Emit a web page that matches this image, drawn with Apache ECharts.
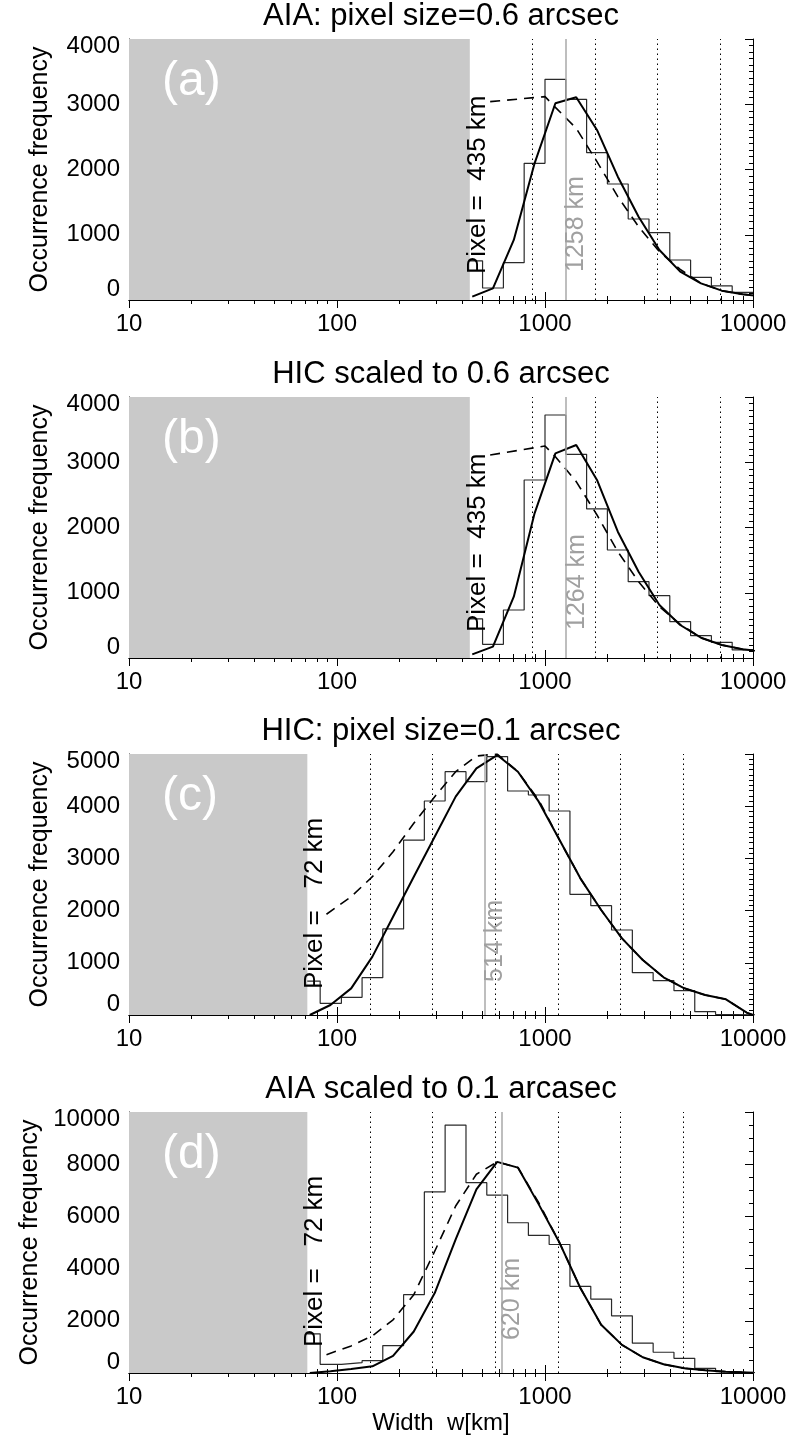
<!DOCTYPE html>
<html><head><meta charset="utf-8">
<script src="https://cdn.jsdelivr.net/npm/echarts/dist/echarts.min.js"></script>
<style>html,body{margin:0;padding:0;background:#fff}#c{width:791px;height:1443px}</style>
</head><body><div id="c"></div>
<script>
// ---------- data ----------
const titles = ['AIA: pixel size=0.6 arcsec', 'HIC scaled to 0.6 arcsec', 'HIC: pixel size=0.1 arcsec', 'AIA scaled to 0.1 arcasec'];
const panelTags = ['(a)', '(b)', '(c)', '(d)'];
const pixelSizes = [435, 435, 72, 72];
const pixelLabels = ['Pixel =  435 km', 'Pixel =  435 km', 'Pixel =   72 km', 'Pixel =   72 km'];
const peakWidths = [1258, 1264, 514, 620];
const peakLabels = ['1258 km', '1264 km', '514 km', '620 km'];
const yMaxes = [4000, 4000, 5000, 10000];
const yIntervals = [1000, 1000, 1000, 2000];
const yMinorSplits = [10, 10, 10, 4];
const xTickValues = [10, 100, 1000, 10000];
const yAxisTitle = 'Occurrence frequency';
const xAxisTitle = 'Width  w[km]';

// dotted reference lines (multiples of the pixel size)
const dottedAB = [870, 1740, 3480, 6960];
const dottedCD = [144, 288, 576, 1152, 2304, 4608];

// histogram bin edges (km)
const edgesAB = [398, 501, 631, 794, 1000, 1259, 1585, 1995, 2512, 3162, 3981, 5012, 6310, 7943, 10000];
const edgesCD = [66, 83, 105, 132, 166, 209, 263, 331, 417, 525, 661, 832, 1047, 1318, 1660, 2089, 2630, 3311, 4169, 5248, 6607, 8318, 10471];

// histogram counts
const histA = [600, 184, 572, 2095, 3382, 3075, 2258, 1778, 1241, 1032, 613, 348, 215, 118];
const histB = [600, 210, 736, 2728, 3724, 3122, 2284, 1655, 1170, 955, 557, 342, 240, 123];
const histC = [650, 224, 339, 715, 1648, 3352, 4100, 4661, 4470, 4950, 4291, 4215, 3908, 2312, 2094, 1628, 811, 658, 466, 64, 10, 0];
const histD = [1500, 333, 397, 474, 1051, 3000, 6936, 9500, 7292, 6817, 5757, 5270, 4924, 3321, 2834, 2192, 1141, 795, 564, 179, 51, 13];

// solid fit curves (x at bin centres)
const centersAB = [447, 562, 708, 891, 1122, 1413, 1778, 2239, 2818, 3548, 4467, 5623, 7079, 8913, 11220];
const solidA = [51, 179, 920, 2095, 3015, 3107, 2606, 1890, 1277, 766, 434, 255, 143, 87, 55];
const solidB = [56, 174, 940, 2217, 3137, 3264, 2728, 1936, 1323, 812, 506, 311, 199, 133, 98];
const centersCD = [74, 93, 117, 148, 186, 234, 295, 372, 468, 589, 741, 933, 1175, 1479, 1862, 2344, 2951, 3715, 4677, 5888, 7413, 9333, 10000];
const solidC = [0, 192, 510, 1118, 1883, 2650, 3416, 4183, 4725, 4980, 4661, 4087, 3352, 2618, 2011, 1469, 1054, 722, 511, 383, 300, 45, 0];
const solidD = [0, 64, 154, 256, 654, 1590, 3064, 5116, 7038, 8090, 7870, 6461, 4987, 3257, 1846, 1077, 603, 333, 179, 103, 51, 13, 10];

// dashed curves
const dashedXA = [545, 1000, 1122, 1413, 1778, 2239, 2818, 3548, 4467, 5623, 7079, 8913, 11220];
const dashedA = [3040, 3117, 2953, 2631, 2120, 1584, 1124, 741, 470, 255, 143, 87, 55];
const dashedB = [3111, 3249, 3085, 2703, 2192, 1630, 1170, 787, 516, 311, 199, 133, 98];
const dashedXCD = [89, 117, 148, 186, 234, 295, 372, 468, 589, 741, 933, 1175, 1479, 1862, 2344, 2951, 3715, 4677, 5888, 7413, 9333, 10000];
const dashedC = [1930, 2267, 2650, 3129, 3672, 4183, 4661, 4962, 5000, 4661, 4119, 3352, 2618, 2011, 1469, 1054, 722, 511, 383, 300, 45, 0];
const dashedD = [700, 1039, 1423, 2039, 3000, 4666, 6398, 7615, 8090, 7870, 6526, 4987, 3257, 1846, 1077, 603, 333, 179, 103, 51, 13, 10];

const panels = [
  {edges: edgesAB, hist: histA, cx: centersAB, solid: solidA, dx: dashedXA, dashed: dashedA, dotted: dottedAB},
  {edges: edgesAB, hist: histB, cx: centersAB, solid: solidB, dx: dashedXA, dashed: dashedB, dotted: dottedAB},
  {edges: edgesCD, hist: histC, cx: centersCD, solid: solidC, dx: dashedXCD, dashed: dashedC, dotted: dottedCD},
  {edges: edgesCD, hist: histD, cx: centersCD, solid: solidD, dx: dashedXCD, dashed: dashedD, dotted: dottedCD}
];

// ---------- layout ----------
const FONT = '"Liberation Sans", Arial, Helvetica, sans-serif';
const gridTops = [39, 397, 754, 1112];
const gridH = 261, gridL = 129, gridW = 624;
const peakTextOffset = [28, 28, 33, 33];

const zip = (xs, ys) => ys.map((y, i) => [xs[i], y]);
const stepData = (edges, counts) => {
  const d = counts.map((c, i) => [edges[i], c]);
  d.push([edges[counts.length], counts[counts.length - 1]]);
  return d;
};

const grids = [], xAxes = [], yAxes = [], series = [];
panels.forEach((p, i) => {
  grids.push({left: gridL, top: gridTops[i], width: gridW, height: gridH});
  const xBase = {
    type: 'log', logBase: 10, min: xTickValues[0], max: xTickValues[xTickValues.length - 1], gridIndex: i,
    axisLine: {show: true, lineStyle: {color: '#000', width: 1}},
    axisTick: {show: true, inside: true, length: 8, lineStyle: {color: '#000', width: 1}},
    minorTick: {show: true, splitNumber: 9, length: 4, lineStyle: {color: '#000', width: 1}},
    splitLine: {show: false}, minorSplitLine: {show: false}
  };
  xAxes.push(Object.assign({}, xBase, {
    position: 'bottom',
    axisLabel: {show: true, fontSize: 24, color: '#000', fontFamily: FONT, margin: 12, formatter: v => String(Math.round(v))},
    name: i === 3 ? xAxisTitle : '', nameLocation: 'middle', nameGap: 38,
    nameTextStyle: {fontSize: 24, color: '#000', fontFamily: FONT}
  }));
  xAxes.push(Object.assign({}, xBase, {position: 'top', axisLabel: {show: false}}));
  const ymax = yMaxes[i];
  const yBase = {
    type: 'value', min: 0, max: ymax, interval: yIntervals[i], gridIndex: i,
    axisLine: {show: true, lineStyle: {color: '#000', width: 1}},
    axisTick: {show: true, inside: true, length: 8, lineStyle: {color: '#000', width: 1}},
    minorTick: {show: true, splitNumber: yMinorSplits[i], length: 4, lineStyle: {color: '#000', width: 1}},
    splitLine: {show: false}, minorSplitLine: {show: false}
  };
  yAxes.push(Object.assign({}, yBase, {
    position: 'left',
    axisLabel: {
      show: true, fontSize: 24, color: '#000', fontFamily: FONT, margin: 9,
      formatter: v => v === 0 ? '{lo|0}' : (v === ymax ? '{hi|' + v + '}' : String(v)),
      rich: {
        lo: {fontSize: 24, fontFamily: FONT, color: '#000', lineHeight: 46, verticalAlign: 'top'},
        hi: {fontSize: 24, fontFamily: FONT, color: '#000', lineHeight: 38, verticalAlign: 'bottom'}
      }
    },
    name: yAxisTitle, nameLocation: 'middle', nameGap: 76,
    nameTextStyle: {fontSize: 25, color: '#000', fontFamily: FONT}
  }));
  yAxes.push(Object.assign({}, yBase, {position: 'right', axisLabel: {show: false}}));

  const xi = 2 * i, yi = 2 * i;
  // gray "below pixel size" region
  series.push({
    type: 'line', xAxisIndex: xi, yAxisIndex: yi, silent: true, z: 10,
    data: [[xTickValues[0], ymax], [pixelSizes[i], ymax]],
    symbol: 'none', lineStyle: {width: 0, color: '#c9c9c9'},
    areaStyle: {color: '#c9c9c9', opacity: 1, origin: 'start'}
  });
  // histogram
  series.push({
    type: 'line', xAxisIndex: xi, yAxisIndex: yi, step: 'end', z: 3,
    data: stepData(p.edges, p.hist), symbol: 'none',
    lineStyle: {color: '#2a2a2a', width: 1.2},
    markLine: {
      silent: true, symbol: 'none', label: {show: false},
      data: p.dotted.map(v => ({xAxis: v, lineStyle: {type: [1.5, 3.5], color: '#000', width: 1}}))
        .concat([{xAxis: peakWidths[i], lineStyle: {type: 'solid', color: '#a8a8a8', width: 1.5}}])
    }
  });
  // solid fit
  series.push({
    type: 'line', xAxisIndex: xi, yAxisIndex: yi, z: 4, data: zip(p.cx, p.solid), symbol: 'none',
    lineStyle: {color: '#000', width: 2}
  });
  // dashed
  series.push({
    type: 'line', xAxisIndex: xi, yAxisIndex: yi, z: 4, data: zip(p.dx, p.dashed), symbol: 'none',
    lineStyle: {color: '#000', width: 1.6, type: [10, 7]}
  });
});

const chart = echarts.init(document.getElementById('c'), null, {renderer: 'canvas'});
chart.setOption({
  animation: false, backgroundColor: '#fff',
  grid: grids, xAxis: xAxes, yAxis: yAxes, series: series
});

// texts anchored through the axes' own scales
const graphics = [];
panels.forEach((p, i) => {
  const bottom = gridTops[i] + gridH;
  graphics.push({type: 'text', x: gridL + gridW / 2, y: gridTops[i] - 38, z: 100,
    style: {text: titles[i], fontSize: 31, fontFamily: FONT, fill: '#000', align: 'center', verticalAlign: 'top'}});
  graphics.push({type: 'text', x: gridL + 33, y: gridTops[i] + 43, z: 100,
    style: {text: panelTags[i], fontSize: 48, fontFamily: FONT, fill: '#fff', align: 'left', verticalAlign: 'middle'}});
  const edgePx = chart.convertToPixel({xAxisIndex: 2 * i}, pixelSizes[i]);
  graphics.push({type: 'text', x: edgePx - 5, y: bottom - 26, rotation: Math.PI / 2, z: 100,
    style: {text: pixelLabels[i], fontSize: 26, fontFamily: FONT, fill: '#000', align: 'left', verticalAlign: 'top'}});
  const peakPx = chart.convertToPixel({xAxisIndex: 2 * i}, peakWidths[i]);
  graphics.push({type: 'text', x: peakPx - 2, y: bottom - peakTextOffset[i], rotation: Math.PI / 2, z: 100,
    style: {text: peakLabels[i], fontSize: 25, fontFamily: FONT, fill: '#a0a0a0', align: 'left', verticalAlign: 'top'}});
});
chart.setOption({graphic: graphics});
</script></body></html>
